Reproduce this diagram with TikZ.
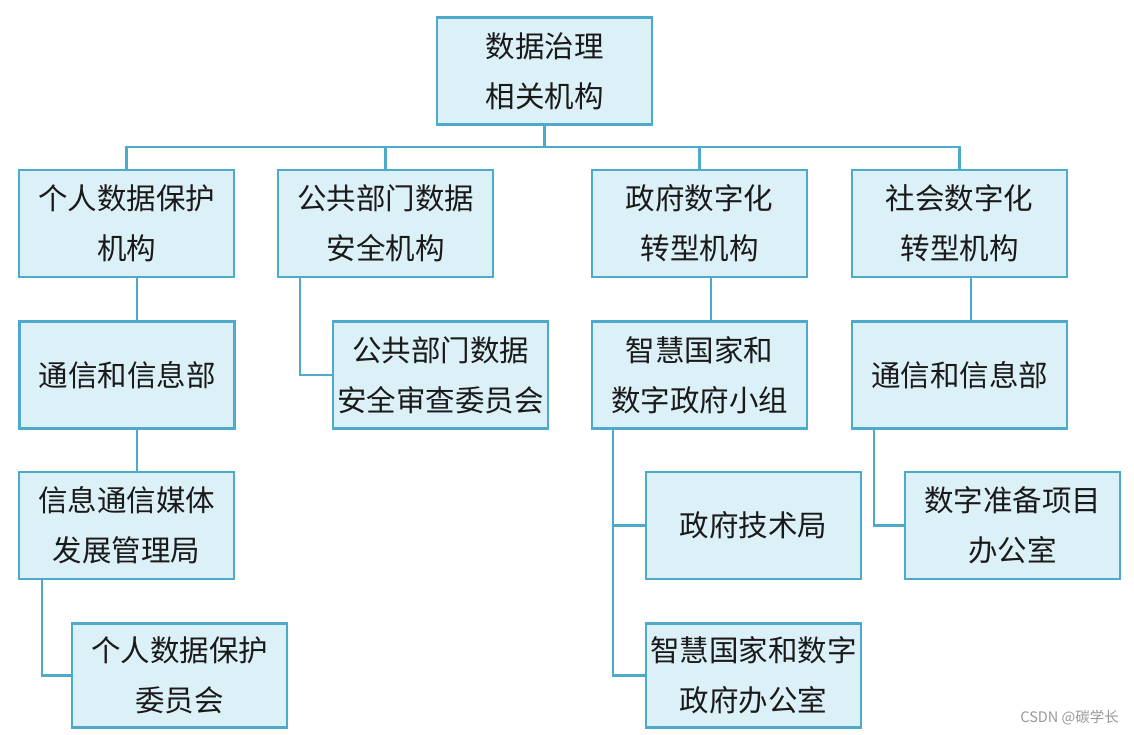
\documentclass[tikz,border=0pt]{standalone}
\usepackage{fontspec}
\newfontfamily\cjk{Noto Sans CJK SC}
\definecolor{boxfill}{HTML}{DCF0F7}
\definecolor{boxline}{HTML}{4EAACA}
\definecolor{txt}{HTML}{1A1A1A}
\begin{document}
\begin{tikzpicture}[x=1pt,y=-1pt,
  orgbox/.style={draw=boxline, fill=boxfill, line width=2.3pt, minimum width=215pt, minimum height=107pt,
    inner sep=0pt, outer sep=0pt, align=center, text=txt, font=\cjk\fontsize{29.5}{50}\selectfont},
  link/.style={draw=boxline, line width=2.3pt}]
\useasboundingbox (0,0) rectangle (1134,734);
\fill[white] (0,0) rectangle (1134,734);
\node[orgbox] (top) at (544.5,71) {数据治理\\相关机构};
\node[orgbox] (a1) at (126.5,223.5) {个人数据保护\\机构};
\node[orgbox] (b1) at (385.5,223.5) {公共部门数据\\安全机构};
\node[orgbox] (c1) at (699.5,223.5) {政府数字化\\转型机构};
\node[orgbox] (d1) at (959.5,223.5) {社会数字化\\转型机构};
\node[orgbox] (a2) at (127,375) {通信和信息部};
\node[orgbox] (b2) at (440.5,375) {公共部门数据\\安全审查委员会};
\node[orgbox] (c2) at (699.5,375) {智慧国家和\\数字政府小组};
\node[orgbox] (d2) at (959.5,375) {通信和信息部};
\node[orgbox] (a3) at (126.5,525.5) {信息通信媒体\\发展管理局};
\node[orgbox] (c3) at (753.5,525.5) {政府技术局};
\node[orgbox] (d3) at (1012.5,525.5) {数字准备项目\\办公室};
\node[orgbox, minimum height=104pt] (a4) at (179.5,675.5) {个人数据保护\\委员会};
\node[orgbox, minimum height=104pt] (c4) at (753.5,675.5) {智慧国家和数字\\政府办公室};
% top bus
\draw[link] (top.south) -- ++(0,22.5);
\draw[link] (a1.north) -- ++(0,-23) -| (d1.north);
\draw[link] (b1.north) -- ++(0,-23);
\draw[link] (c1.north) -- ++(0,-23);
% left branch
\draw[link] ([xshift=10.5pt]a1.south) -- ([xshift=10pt]a2.north);
\draw[link] ([xshift=10pt]a2.south) -- ([xshift=10.5pt]a3.north);
\draw[link] ([xshift=23pt]a3.south west) |- (a4.west);
% second branch
\draw[link] ([xshift=22pt]b1.south west) |- (b2.west);
% third branch
\draw[link] ([xshift=11.5pt]c1.south) -- ([xshift=11.5pt]c2.north);
\coordinate (cl) at ([xshift=21pt]c2.south west);
\draw[link] (cl) |- (c4.west);
\draw[link] (cl |- c3.west) -- (c3.west);
% fourth branch
\draw[link] ([xshift=11.5pt]d1.south) -- ([xshift=11.5pt]d2.north);
\draw[link] ([xshift=22pt]d2.south west) |- (d3.west);
% watermark
\node[text=gray!80, font=\cjk\fontsize{14.5}{16}\selectfont, anchor=east, inner sep=0pt] (wm) at (1119,718) {CSDN @碳学长};
\end{tikzpicture}
\end{document}
